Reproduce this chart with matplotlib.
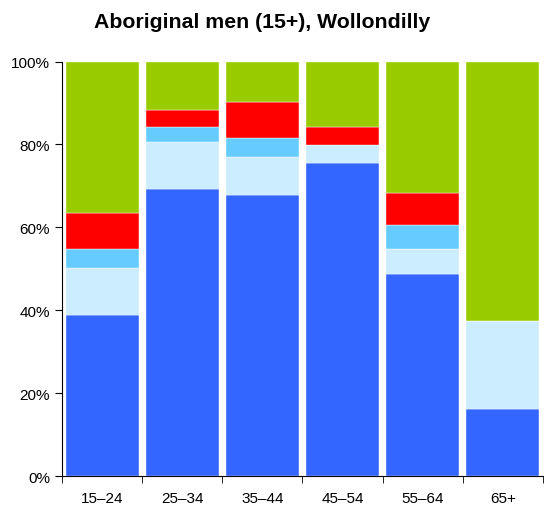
import matplotlib.pyplot as plt
import numpy as np

plt.rcParams['font.family'] = ['Liberation Sans', 'DejaVu Sans']

# Age groups and stacked shares (percent)
age_groups = ['15–24', '25–34', '35–44', '45–54', '55–64', '65+']
seg1 = [38.9, 69.2, 67.8, 75.6, 48.7, 16.2]
seg2 = [11.2, 11.4, 9.1, 4.3, 6.0, 21.3]
seg3 = [4.6, 3.7, 4.6, 0.0, 5.8, 0.0]
seg4 = [8.8, 3.9, 8.8, 4.2, 7.8, 0.0]
seg5 = [36.5, 11.8, 9.7, 15.9, 31.7, 62.5]

segments = [seg1, seg2, seg3, seg4, seg5]
colors = ['#3366FF', '#CCECFF', '#66CCFF', '#FF0000', '#99CC00']

fig = plt.figure(figsize=(5.44, 5.06), dpi=100)
ax = fig.add_axes([0.114, 0.0573, 0.884, 0.819])

x = np.arange(len(age_groups))
bottom = np.zeros(len(age_groups))
for vals, c in zip(segments, colors):
    ax.bar(x, vals, bottom=bottom, width=0.91, color=c,
           edgecolor='white', linewidth=0.3)
    bottom += np.array(vals)

ax.set_xlim(-0.5, len(age_groups) - 0.5)
ax.set_ylim(0, 100)
ax.set_yticks([0, 20, 40, 60, 80, 100])
ax.set_yticklabels(['0%', '20%', '40%', '60%', '80%', '100%'], fontsize=11)

# category labels centred, ticks on the boundaries
ax.set_xticks(x)
ax.set_xticklabels(age_groups, fontsize=11)
ax.tick_params(axis='x', length=0, pad=11)
ax.set_xticks(np.arange(-0.5, len(age_groups)), minor=True)
ax.tick_params(axis='x', which='minor', length=5, direction='out')
ax.tick_params(axis='y', length=5, direction='out')

ax.spines['top'].set_visible(False)
ax.spines['right'].set_visible(False)

fig.text(0.481, 0.955, 'Aboriginal men (15+), Wollondilly', ha='center',
         va='center', fontsize=15.3, fontweight='bold')

fig.savefig('out.png', dpi=100)
